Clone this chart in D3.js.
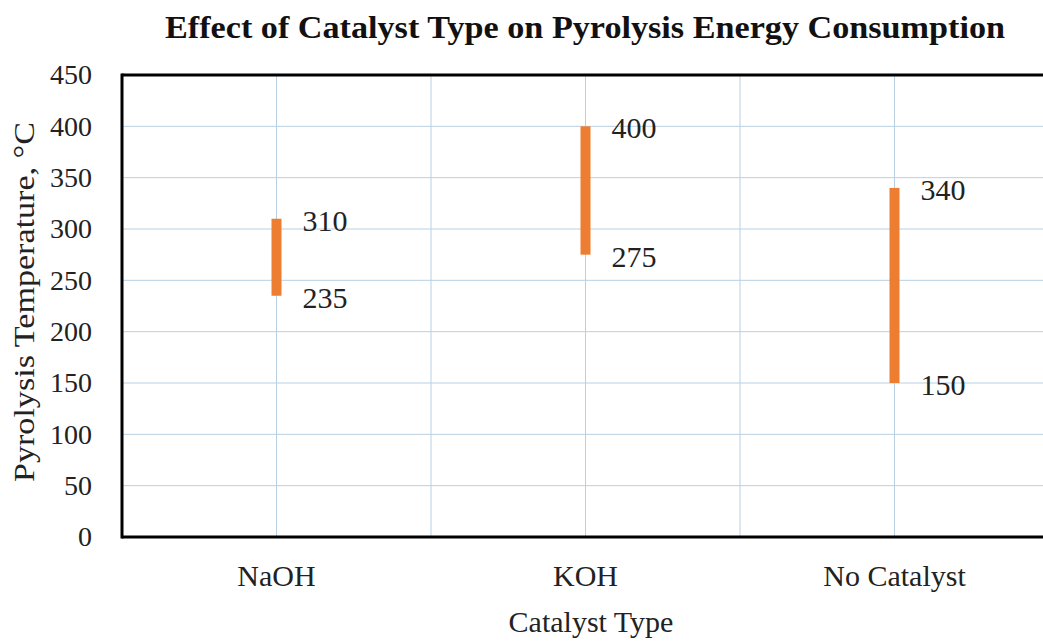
<!DOCTYPE html>
<html>
    <head>
        <meta charset="UTF-8">
        <script src="https://d3js.org/d3.v7.min.js"></script>
        <style>
            body {
                margin: 0;
                background: #fff;
            }
            svg text {
                font-family: "Liberation Serif", "Times New Roman", serif;
            }
            .grid line {
                stroke: #b9d0e3;
                stroke-width: 1;
            }
        </style>
    </head>
    <body>
        <svg id="chart" width="1043" height="641"></svg>
        <script>
            var categories = ["NaOH", "KOH", "No Catalyst"];
            var lowValues = [235, 275, 150];
            var highValues = [310, 400, 340];
            var yTicks = [0, 50, 100, 150, 200, 250, 300, 350, 400, 450];

            var svg = d3.select('#chart');
            var mLeft = 122, mRight = 1049, mTop = 75, mBottom = 537;
            var serif = '"Liberation Serif", "Times New Roman", serif';

            var x = d3.scaleBand().domain(categories).range([mLeft, mRight]);
            var y = d3.scaleLinear().domain([0, 450]).range([mBottom, mTop]);

            // horizontal grid
            svg.append('g').attr('class', 'grid')
                .selectAll('line')
                .data(yTicks)
                .join('line')
                .attr('x1', mLeft).attr('x2', mRight)
                .attr('y1', function(d) { return y(d); })
                .attr('y2', function(d) { return y(d); });

            // vertical grid: at category centers and boundaries
            var vLines = [];
            categories.forEach(function(c) {
                vLines.push(x(c) + x.bandwidth() / 2);
                vLines.push(x(c) + x.bandwidth());
            });
            svg.append('g').attr('class', 'grid')
                .selectAll('line')
                .data(vLines)
                .join('line')
                .attr('x1', function(d) { return d; })
                .attr('x2', function(d) { return d; })
                .attr('y1', mTop).attr('y2', mBottom);

            // frame lines
            svg.append('line').attr('x1', mLeft).attr('x2', mRight)
                .attr('y1', mTop).attr('y2', mTop)
                .attr('stroke', '#000').attr('stroke-width', 3);
            svg.append('line').attr('x1', mLeft).attr('x2', mRight)
                .attr('y1', mBottom).attr('y2', mBottom)
                .attr('stroke', '#000').attr('stroke-width', 3);
            svg.append('line').attr('x1', mLeft).attr('x2', mLeft)
                .attr('y1', mTop - 1.5).attr('y2', mBottom + 1.5)
                .attr('stroke', '#000').attr('stroke-width', 3);

            // y axis labels
            var yAxis = d3.axisLeft(y).tickValues(yTicks).tickSize(0).tickPadding(30);
            svg.append('g')
                .attr('transform', 'translate(' + mLeft + ',0)')
                .call(yAxis)
                .attr('font-family', serif)
                .attr('font-size', 28)
                .call(function(g) {
                    g.select('.domain').remove();
                    g.selectAll('text').attr('fill', '#222');
                });

            // x axis labels
            var xAxis = d3.axisBottom(x).tickSize(0).tickPadding(28);
            svg.append('g')
                .attr('transform', 'translate(0,' + mBottom + ')')
                .call(xAxis)
                .attr('font-family', serif)
                .attr('font-size', 30)
                .call(function(g) {
                    g.select('.domain').remove();
                    g.selectAll('text').attr('fill', '#222');
                });

            // range bars
            var data = categories.map(function(c, i) {
                return {cat: c, low: lowValues[i], high: highValues[i]};
            });
            svg.append('g').selectAll('rect')
                .data(data)
                .join('rect')
                .attr('x', function(d) { return x(d.cat) + x.bandwidth() / 2 - 5; })
                .attr('width', 10)
                .attr('y', function(d) { return y(d.high); })
                .attr('height', function(d) { return y(d.low) - y(d.high); })
                .attr('fill', '#ed7d31');

            // value labels
            var labels = [];
            data.forEach(function(d) {
                labels.push({cat: d.cat, v: d.high});
                labels.push({cat: d.cat, v: d.low});
            });
            svg.append('g').selectAll('text')
                .data(labels)
                .join('text')
                .attr('x', function(d) { return x(d.cat) + x.bandwidth() / 2 + 26; })
                .attr('y', function(d) { return y(d.v) + 12; })
                .attr('font-size', 30)
                .attr('fill', '#222')
                .text(function(d) { return d.v; });

            // title
            svg.append('text')
                .attr('x', 585).attr('y', 38)
                .attr('text-anchor', 'middle')
                .attr('font-size', 31)
                .attr('font-weight', 'bold')
                .attr('fill', '#111')
                .attr('textLength', 840)
                .attr('lengthAdjust', 'spacingAndGlyphs')
                .text('Effect of Catalyst Type on Pyrolysis Energy Consumption');

            // axis titles
            svg.append('text')
                .attr('transform', 'translate(34,302) rotate(-90)')
                .attr('text-anchor', 'middle')
                .attr('font-size', 30)
                .attr('fill', '#222')
                .attr('textLength', 360)
                .attr('lengthAdjust', 'spacingAndGlyphs')
                .text('Pyrolysis Temperature, °C');
            svg.append('text')
                .attr('x', 591).attr('y', 632)
                .attr('text-anchor', 'middle')
                .attr('font-size', 30)
                .attr('fill', '#222')
                .text('Catalyst Type');
        </script>
    </body>
</html>
